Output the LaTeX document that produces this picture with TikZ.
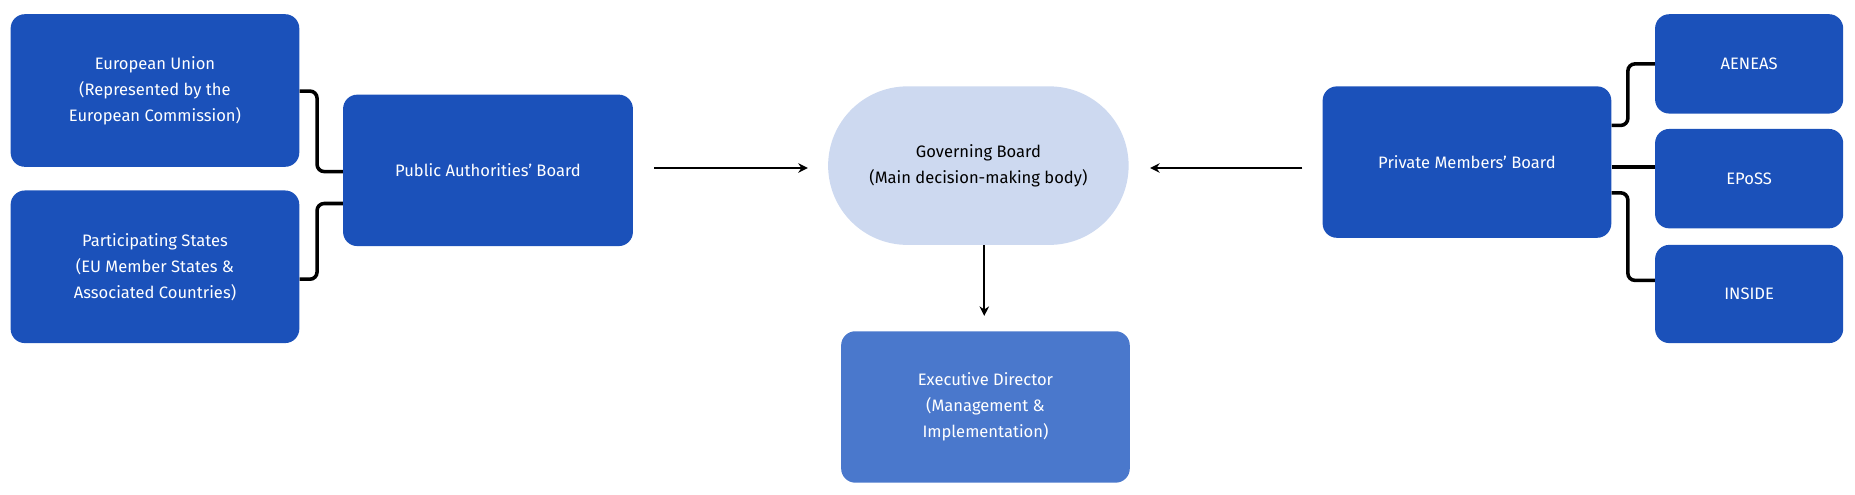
\documentclass[tikz,border=0pt]{standalone}
\usepackage{fontspec}
\setmainfont{Fira Sans}
\usetikzlibrary{arrows.meta,shapes.misc}
\definecolor{mblue}{HTML}{1B51BA}
\definecolor{lblue}{HTML}{CDD9F0}
\definecolor{eblue}{HTML}{4A78CC}
\begin{document}
\begin{tikzpicture}[x=1pt,y=-1pt,
  box/.style={draw=none,fill=mblue,rounded corners=12pt,text=white,align=center,font=\fontsize{14}{22}\selectfont,inner sep=0pt},
  link/.style={line width=3pt,rounded corners=6pt},
  arr/.style={line width=2pt,-{Stealth[length=8pt,width=8pt]}}]
\useasboundingbox (0,0) rectangle (1568,418);
\node[box,minimum width=244pt,minimum height=129pt] (eu) at (131,76.5) {European Union\\(Represented by the\\European Commission)};
\node[box,minimum width=244pt,minimum height=129pt] (ps) at (131,225.5) {Participating States\\(EU Member States \&\\Associated Countries)};
\node[box,minimum width=245pt,minimum height=128pt] (pab) at (412.5,144) {Public Authorities’ Board};
\node[draw=none,fill=lblue,rounded rectangle,minimum width=254pt,minimum height=134pt,align=center,font=\fontsize{14}{22}\selectfont,inner sep=0pt] (gb) at (827,140) {Governing Board\\(Main decision-making body)};
\node[box,fill=eblue,minimum width=244pt,minimum height=128pt] (ed) at (833,344) {Executive Director\\(Management \&\\Implementation)};
\node[box,minimum width=244pt,minimum height=128pt] (pmb) at (1240,137) {Private Members’ Board};
\node[box,minimum width=159pt,minimum height=84pt] (ae) at (1478.5,54) {AENEAS};
\node[box,minimum width=159pt,minimum height=84pt] (ep) at (1478.5,151) {EPoSS};
\node[box,minimum width=159pt,minimum height=83pt] (in) at (1478.5,248.5) {INSIDE};
\draw[link] (eu.east |- 0,77) -- (268,77) -- (268,145) -- (pab.west |- 0,145);
\draw[link] (ps.east |- 0,236) -- (268,236) -- (268,172) -- (pab.west |- 0,172);
\draw[link] (pmb.east |- 0,106) -- (1376,106) -- (1376,54) -- (ae.west |- 0,54);
\draw[link] (pmb.east |- 0,141) -- (ae.west |- 0,141);
\draw[link] (pmb.east |- 0,163) -- (1376,163) -- (1376,237) -- (in.west |- 0,237);
\draw[arr] ([xshift=18pt]pab.east |- 0,142) -- ([xshift=-17pt]gb.west |- 0,142);
\draw[arr] ([xshift=-17pt]pmb.west |- 0,142) -- ([xshift=18pt]gb.east |- 0,142);
\draw[arr] ([yshift=0pt]gb.south -| 832,0) -- (832,267);
\end{tikzpicture}
\end{document}
